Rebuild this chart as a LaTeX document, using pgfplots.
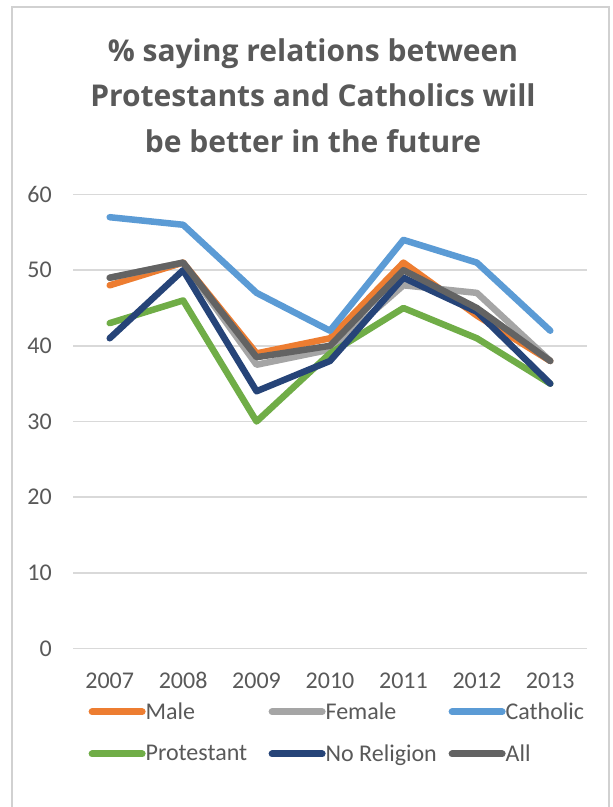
\documentclass[border=0pt]{standalone}
\usepackage{pgfplots}
\pgfplotsset{compat=1.18}
\usepackage{fontspec}
\setmainfont{Carlito}
\newfontfamily\titlefont{Open Sans}
\definecolor{cMale}{HTML}{ED7D31}
\definecolor{cFemale}{HTML}{A5A5A5}
\definecolor{cCath}{HTML}{5B9BD5}
\definecolor{cProt}{HTML}{70AD47}
\definecolor{cNoRel}{HTML}{264478}
\definecolor{cAll}{HTML}{636363}
\definecolor{txt}{HTML}{595959}
\definecolor{gridc}{HTML}{D9D9D9}
\begin{document}
\begin{tikzpicture}[x=1pt,y=1pt]
\useasboundingbox (0,0) rectangle (613,807);
\fill[white] (0,0) rectangle (613,807);
\draw[black!18, line width=1.5pt] (12,-10) -- (12,800) -- (609,800) -- (609,-10);
\begin{scope}[font=\titlefont\bfseries\fontsize{30}{36}\selectfont, text=txt]
\node[anchor=base, inner sep=0pt] at (313,745) {\% saying relations between};
\node[anchor=base, inner sep=0pt] at (313,700) {Protestants and Catholics will};
\node[anchor=base, inner sep=0pt] at (313,654) {be better in the future};
\end{scope}
\begin{axis}[
  at={(73pt,158.5pt)}, anchor=south west,
  scale only axis, width=514pt, height=454pt,
  xmin=2006.5, xmax=2013.5, ymin=0, ymax=60,
  xtick={2007,2008,2009,2010,2011,2012,2013},
  xticklabels={2007,2008,2009,2010,2011,2012,2013},
  ytick={0,10,20,30,40,50,60},
  axis line style={draw=none}, major tick length=0pt,
  ymajorgrids, grid style={gridc, line width=1.5pt},
  /pgf/number format/assume math mode=true,
  tick label style={font=\fontsize{24}{24}\selectfont, text=txt, inner sep=0pt},
  xticklabel style={anchor=base, yshift=-39.5pt},
  yticklabel style={anchor=east, xshift=-21pt},
  legend columns=3,
  legend cell align=left,
  legend style={at={(axis description cs:0.03,-0.119)}, anchor=north west,
    draw=none, fill=none, inner sep=0pt, font=\fontsize{24}{24}\selectfont, text=txt,
    nodes={inner sep=0pt}, row sep=24pt,
    /tikz/every even column/.append style={column sep=1pt}},
  legend image code/.code={\draw[#1, line width=7pt, line cap=round] (0pt,0pt) -- (50pt,0pt);},
  every axis plot/.append style={line width=6.5pt, line join=round, line cap=round, mark=none},
]
\addplot[cMale] coordinates {(2007,48) (2008,51) (2009,39) (2010,41) (2011,51) (2012,44) (2013,38)};
\addlegendentry{\makebox[122pt][l]{Male}}
\addplot[cFemale] coordinates {(2007,49) (2008,51) (2009,37.5) (2010,39.5) (2011,48) (2012,47) (2013,38)};
\addlegendentry{\makebox[122pt][l]{Female}}
\addplot[cCath] coordinates {(2007,57) (2008,56) (2009,47) (2010,42) (2011,54) (2012,51) (2013,42)};
\addlegendentry{Catholic}
\addplot[cProt] coordinates {(2007,43) (2008,46) (2009,30) (2010,39) (2011,45) (2012,41) (2013,35)};
\addlegendentry{\makebox[122pt][l]{Protestant}}
\addplot[cNoRel] coordinates {(2007,41) (2008,50) (2009,34) (2010,38) (2011,49) (2012,44.5) (2013,35)};
\addlegendentry{\makebox[122pt][l]{No Religion}}
\addplot[cAll] coordinates {(2007,49) (2008,51) (2009,38.5) (2010,40) (2011,50) (2012,45) (2013,38)};
\addlegendentry{All}
\end{axis}
\end{tikzpicture}
\end{document}
